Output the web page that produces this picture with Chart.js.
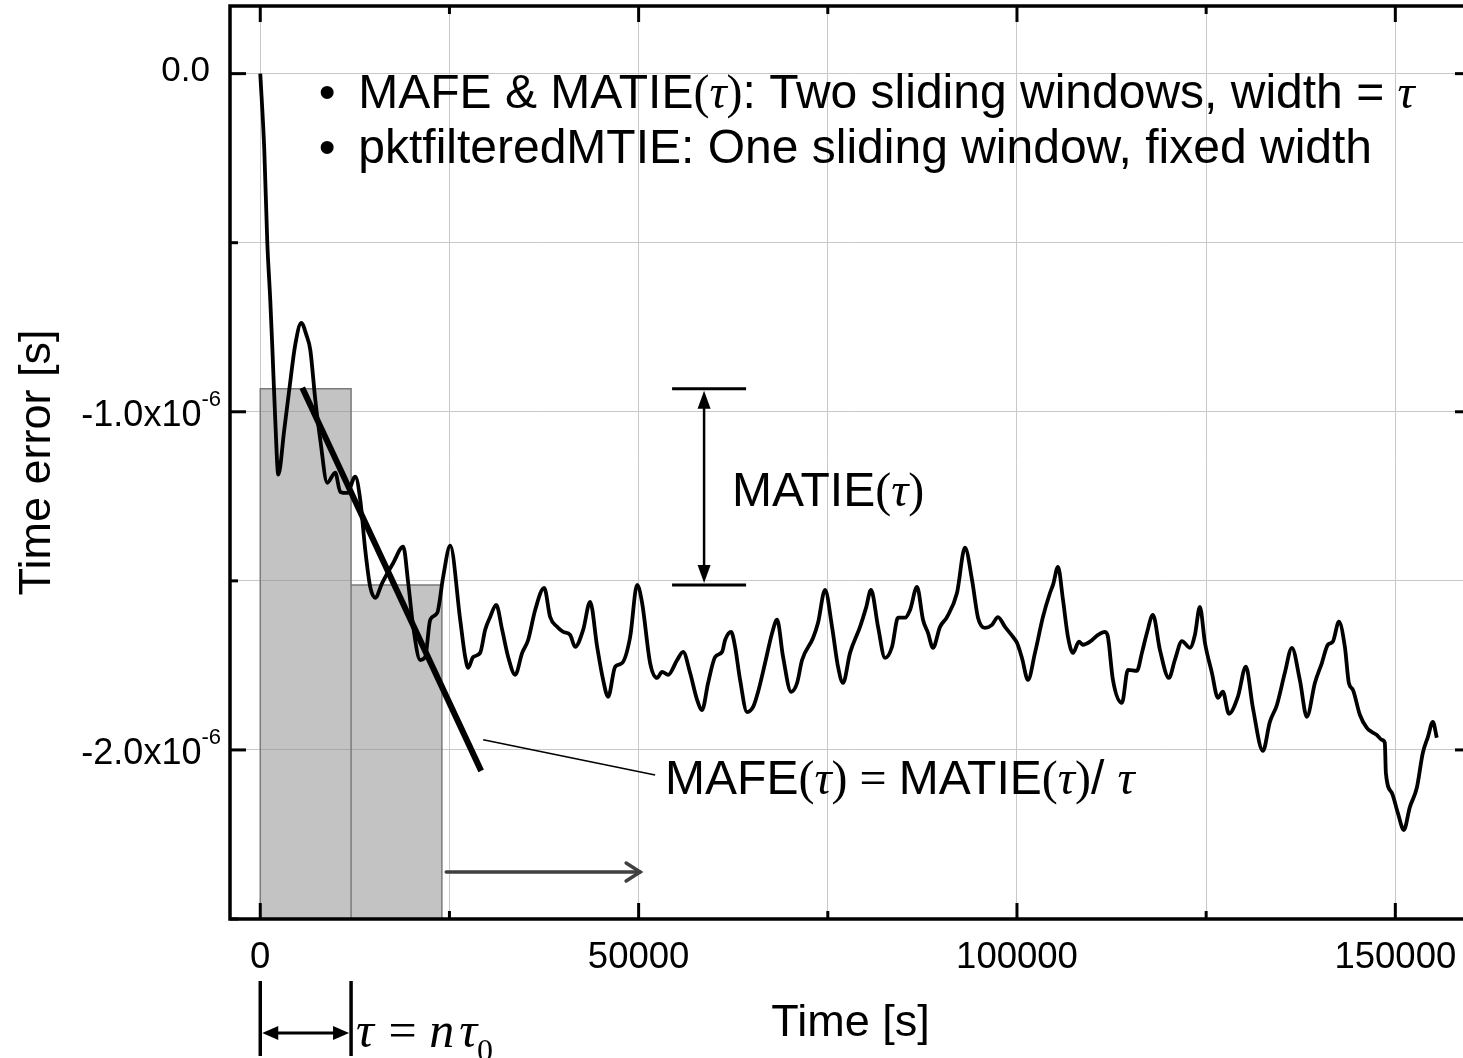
<!DOCTYPE html>
<html><head><meta charset="utf-8">
<script src="https://cdn.jsdelivr.net/npm/chart.js@4.4.1/dist/chart.umd.min.js"></script>
<style>html,body{margin:0;padding:0;overflow:hidden;background:#fff}#wrap{width:1474px;height:1058px}</style>
</head><body><div id="wrap"><canvas id="c" width="1474" height="1058"></canvas></div>
<script>
// ---------- data ----------
const timeSeconds = [
0,530,930,1320,1590,1980,2380,3170,3830,4620,
5420,6080,6610,7270,7930,8850,9910,10570,11490,12550,
13210,13870,14530,15190,16120,17570,18890,19550,20210,21140,
21800,22460,23380,24170,25100,26420,27080,27480,28140,29060,
29720,30380,31180,31970,32760,33690,34610,35400,36330,37520,
38310,39230,40030,40950,41610,42670,43590,44520,45310,45970,
46900,47820,48880,49800,50460,51520,52440,53100,53900,55090,
55880,56800,57730,58390,59180,60110,61030,61430,62220,62750,
63410,64330,65130,65790,66710,67640,68300,69090,70150,70940,
71600,73050,73710,74640,75560,76350,77010,77940,79260,80050,
80710,81640,82560,83490,84280,85210,85870,86790,87580,88240,
88900,89830,90750,92070,93130,94060,94850,95770,96700,97490,
98420,99470,100000,100660,101450,102380,103430,104360,104760,105420,
106080,106740,107400,108190,108720,109640,110700,111630,112020,112680,
113870,114660,115850,116510,117170,117970,118890,120080,120870,121800,
122850,123510,124170,124840,125760,126550,127210,128010,129190,130250,
131180,132500,133420,134350,135400,136330,137380,138310,139370,140290,
141080,141740,142540,143330,143860,144390,145310,146240,146900,147560,
148220,148610,148750,149540,150330,151120,151920,152840,153630,154300,
154960,155480];
const timeError = [
0,-0.225e-6,-0.500e-6,-0.669e-6,-0.808e-6,-1.024e-6,-1.186e-6,-1.053e-6,-0.935e-6,-0.802e-6,
-0.737e-6,-0.772e-6,-0.817e-6,-0.964e-6,-1.083e-6,-1.210e-6,-1.180e-6,-1.237e-6,-1.240e-6,-1.192e-6,
-1.260e-6,-1.408e-6,-1.518e-6,-1.550e-6,-1.506e-6,-1.447e-6,-1.399e-6,-1.506e-6,-1.636e-6,-1.734e-6,
-1.725e-6,-1.615e-6,-1.595e-6,-1.488e-6,-1.396e-6,-1.615e-6,-1.725e-6,-1.757e-6,-1.725e-6,-1.713e-6,
-1.645e-6,-1.607e-6,-1.571e-6,-1.645e-6,-1.725e-6,-1.778e-6,-1.713e-6,-1.675e-6,-1.586e-6,-1.521e-6,
-1.607e-6,-1.636e-6,-1.651e-6,-1.660e-6,-1.695e-6,-1.645e-6,-1.562e-6,-1.695e-6,-1.793e-6,-1.843e-6,
-1.754e-6,-1.743e-6,-1.666e-6,-1.512e-6,-1.565e-6,-1.743e-6,-1.787e-6,-1.769e-6,-1.778e-6,-1.734e-6,
-1.710e-6,-1.772e-6,-1.852e-6,-1.882e-6,-1.802e-6,-1.725e-6,-1.710e-6,-1.675e-6,-1.651e-6,-1.695e-6,
-1.793e-6,-1.888e-6,-1.873e-6,-1.828e-6,-1.743e-6,-1.654e-6,-1.615e-6,-1.725e-6,-1.828e-6,-1.802e-6,
-1.734e-6,-1.669e-6,-1.624e-6,-1.527e-6,-1.636e-6,-1.754e-6,-1.802e-6,-1.713e-6,-1.636e-6,-1.580e-6,
-1.527e-6,-1.636e-6,-1.728e-6,-1.695e-6,-1.609e-6,-1.609e-6,-1.586e-6,-1.518e-6,-1.615e-6,-1.654e-6,
-1.698e-6,-1.636e-6,-1.607e-6,-1.536e-6,-1.402e-6,-1.497e-6,-1.609e-6,-1.639e-6,-1.630e-6,-1.607e-6,
-1.636e-6,-1.666e-6,-1.683e-6,-1.728e-6,-1.793e-6,-1.713e-6,-1.607e-6,-1.536e-6,-1.512e-6,-1.459e-6,
-1.556e-6,-1.666e-6,-1.713e-6,-1.680e-6,-1.689e-6,-1.680e-6,-1.660e-6,-1.651e-6,-1.666e-6,-1.793e-6,
-1.861e-6,-1.763e-6,-1.766e-6,-1.713e-6,-1.654e-6,-1.601e-6,-1.704e-6,-1.787e-6,-1.734e-6,-1.678e-6,
-1.698e-6,-1.660e-6,-1.577e-6,-1.683e-6,-1.772e-6,-1.846e-6,-1.828e-6,-1.893e-6,-1.843e-6,-1.754e-6,
-1.876e-6,-2.003e-6,-1.917e-6,-1.867e-6,-1.772e-6,-1.698e-6,-1.793e-6,-1.902e-6,-1.802e-6,-1.743e-6,
-1.689e-6,-1.680e-6,-1.621e-6,-1.695e-6,-1.802e-6,-1.822e-6,-1.896e-6,-1.935e-6,-1.947e-6,-1.956e-6,
-1.970e-6,-1.979e-6,-2.068e-6,-2.127e-6,-2.186e-6,-2.237e-6,-2.169e-6,-2.112e-6,-2.009e-6,-1.962e-6,
-1.917e-6,-1.964e-6];

// averaging windows (width tau)
const windowStart = [0, 12000];
const windowEnd   = [12000, 24000];
const windowMean  = [-0.932e-6, -1.512e-6];

// MAFE slope line and leader
const slopeX = [5550, 29190];
const slopeY = [-0.929e-6, -2.062e-6];
const leaderX = [29460, 52180];
const leaderY = [-1.970e-6, -2.074e-6];

// MATIE bracket
const matieArrowX = 58650;
const matieBarX = [54420, 64200];

// sliding direction arrow
const slideArrowX = [24570, 50200];
const slideArrowY = -2.361e-6;

// axis ticks
const xGridTicks = [0, 25000, 50000, 75000, 100000, 125000, 150000];
const xMajorTicks = [0, 50000, 100000, 150000];
const xTickLabels = ['0', '50000', '100000', '150000'];
const yGridTicks = [-2.5e-6, -2.0e-6, -1.5e-6, -1.0e-6, -0.5e-6, 0];
const yMajorTicks = [0, -1e-6, -2e-6];
const yTickBase = ['0.0', '-1.0x10', '-2.0x10'];
const yTickExp  = ['', '-6', '-6'];

// text anchors (data space)
const bulletTextX = 12950, bulletDotX = 8850;
const bulletLineY = [-0.1006e-6, -0.2633e-6];
const matieLabel = {x: 62350, y: -1.278e-6};
const mafeLabel = {x: 53500, y: -2.130e-6};

// ---------- build ----------
const SANS = '"Liberation Sans", Arial, Helvetica, sans-serif';
const SERIF = '"Liberation Serif", "Times New Roman", serif';

const curve = timeSeconds.map((t, i) => ({x: t, y: timeError[i]}));
const yMin = -2.5e-6, yMax = 0.2e-6, xMin = -4000, xMax = 160000;
const windowOutline = [];
for (let i = 0; i < windowStart.length; i++) {
  windowOutline.push({x: windowStart[i], y: yMin});
  windowOutline.push({x: windowStart[i], y: windowMean[i]});
  windowOutline.push({x: windowEnd[i], y: windowMean[i]});
  windowOutline.push({x: windowEnd[i], y: yMin});
}
const slope = slopeX.map((v, i) => ({x: v, y: slopeY[i]}));
const leader = leaderX.map((v, i) => ({x: v, y: leaderY[i]}));

function line(ctx, x1, y1, x2, y2) { ctx.beginPath(); ctx.moveTo(x1, y1); ctx.lineTo(x2, y2); ctx.stroke(); }
function tri(ctx, tipX, tipY, dx, dy, len, half) {
  const bx = tipX - dx * len, by = tipY - dy * len;
  ctx.beginPath();
  ctx.moveTo(tipX, tipY);
  ctx.lineTo(bx - dy * half, by + dx * half);
  ctx.lineTo(bx + dy * half, by - dx * half);
  ctx.closePath(); ctx.fill();
}
function rich(ctx, x, y, parts) {
  let cx = x;
  for (const p of parts) {
    ctx.font = p.f;
    ctx.fillText(p.t, cx, y + (p.dy || 0));
    cx += ctx.measureText(p.t).width + (p.dx || 0);
  }
  return cx;
}

const annot = {
  id: 'annot',
  afterDatasetsDraw(chart) {
    const {ctx, chartArea: a, scales: {x, y}} = chart;
    const X = v => x.getPixelForValue(v), Y = v => y.getPixelForValue(v);
    ctx.save();
    ctx.strokeStyle = '#000'; ctx.fillStyle = '#000'; ctx.lineCap = 'butt';

    // MATIE bracket
    const yT = Y(windowMean[0]), yB = Y(windowMean[1]), ax = X(matieArrowX);
    ctx.lineWidth = 3;
    line(ctx, X(matieBarX[0]), yT, X(matieBarX[1]), yT);
    line(ctx, X(matieBarX[0]), yB, X(matieBarX[1]), yB);
    ctx.lineWidth = 2.5;
    line(ctx, ax, yT + 14, ax, yB - 14);
    tri(ctx, ax, yT + 2, 0, -1, 18, 6.5);
    tri(ctx, ax, yB - 2, 0, 1, 18, 6.5);

    // sliding arrow
    ctx.strokeStyle = '#404040'; ctx.lineWidth = 3.5; ctx.lineCap = 'round';
    const sy = Y(slideArrowY), sx1 = X(slideArrowX[0]), sx2 = X(slideArrowX[1]);
    line(ctx, sx1, sy, sx2, sy);
    ctx.beginPath(); ctx.moveTo(sx2 - 14, sy - 9); ctx.lineTo(sx2, sy); ctx.lineTo(sx2 - 14, sy + 9); ctx.stroke();

    // frame
    ctx.lineCap = 'butt'; ctx.strokeStyle = '#000'; ctx.lineWidth = 3.5;
    ctx.strokeRect(a.left, a.top, a.right - a.left, a.bottom - a.top);
    // ticks (inward on all four sides)
    ctx.lineWidth = 3;
    for (const t of x.ticks) {
      const px = X(t.value);
      const len = xMajorTicks.includes(t.value) ? 16 : 8;
      line(ctx, px, a.bottom, px, a.bottom - len);
      line(ctx, px, a.top, px, a.top + len);
    }
    for (const t of y.ticks) {
      const py = Y(t.value);
      const len = yMajorTicks.some(v => Math.abs(v - t.value) < 1e-12) ? 16 : 8;
      line(ctx, a.left, py, a.left + len, py);
      line(ctx, a.right, py, a.right - len, py);
    }

    // tau bracket below axis
    ctx.lineWidth = 3.5;
    const b0 = X(windowStart[0]), b1 = X(windowEnd[0]);
    line(ctx, b0, a.bottom + 62, b0, a.bottom + 137);
    line(ctx, b1, a.bottom + 62, b1, a.bottom + 137);
    const by = a.bottom + 114;
    ctx.lineWidth = 3;
    line(ctx, b0 + 12, by, b1 - 12, by);
    tri(ctx, b0 + 2, by, -1, 0, 16, 7);
    tri(ctx, b1 - 2, by, 1, 0, 16, 7);

    // texts
    ctx.fillStyle = '#000'; ctx.textBaseline = 'alphabetic';
    const S = '48px ' + SANS, R = '48px ' + SERIF, I = 'italic 48px ' + SERIF;
    ctx.textAlign = 'center'; ctx.font = S;
    ctx.fillText('\u2022', X(bulletDotX), Y(bulletLineY[0]));
    ctx.fillText('\u2022', X(bulletDotX), Y(bulletLineY[1]));
    ctx.textAlign = 'left';
    rich(ctx, X(bulletTextX), Y(bulletLineY[0]), [
      {t: 'MAFE & MATIE', f: S}, {t: '(', f: R}, {t: '\u03c4', f: I}, {t: ')', f: R},
      {t: ': Two sliding windows, width = ', f: S}, {t: '\u03c4', f: I}]);
    rich(ctx, X(bulletTextX), Y(bulletLineY[1]), [
      {t: 'pktfilteredMTIE: One sliding window, fixed width', f: S}]);
    rich(ctx, X(matieLabel.x), Y(matieLabel.y), [
      {t: 'MATIE', f: S}, {t: '(', f: R}, {t: '\u03c4', f: I}, {t: ')', f: R}]);
    rich(ctx, X(mafeLabel.x), Y(mafeLabel.y), [
      {t: 'MAFE', f: S}, {t: '(', f: R}, {t: '\u03c4', f: I}, {t: ')', f: R},
      {t: ' = ', f: R}, {t: 'MATIE', f: S}, {t: '(', f: R}, {t: '\u03c4', f: I}, {t: ')', f: R},
      {t: '/ ', f: S}, {t: '\u03c4', f: I}]);
    const T = 'italic 50px ' + SERIF, TR = '50px ' + SERIF;
    rich(ctx, b1 + 5, a.bottom + 128, [
      {t: '\u03c4', f: T, dx: 2}, {t: ' = ', f: TR}, {t: 'n', f: T, dx: 5}, {t: '\u03c4', f: T},
      {t: '0', f: '32px ' + SERIF, dy: 14}]);

    // y tick labels with superscript exponent
    for (let i = 0; i < yMajorTicks.length; i++) {
      const py = Y(yMajorTicks[i]);
      if (!yTickExp[i]) {
        ctx.font = '35px ' + SANS; ctx.textAlign = 'right'; ctx.textBaseline = 'middle';
        ctx.fillText(yTickBase[i], a.left - 20, py - 2);
      } else {
        ctx.font = '22px ' + SANS; ctx.textBaseline = 'middle';
        const ew = ctx.measureText(yTickExp[i]).width;
        const right = a.left - 9;
        ctx.textAlign = 'left';
        ctx.fillText(yTickExp[i], right - ew, py - 12);
        ctx.font = '36px ' + SANS; ctx.textAlign = 'right';
        ctx.fillText(yTickBase[i], right - ew, py + 4);
      }
    }
    ctx.restore();
  }
};

const gridOpts = {color: '#c8c8c8', lineWidth: 1, drawTicks: false};
new Chart(document.getElementById('c'), {
  type: 'line',
  data: {datasets: [
    {label: 'Averaging windows', data: windowOutline, borderColor: '#7a7a7a', borderWidth: 1.5,
     backgroundColor: 'rgba(140,140,140,0.52)', fill: 'start', pointRadius: 0, tension: 0, order: 4},
    {label: 'Time error', data: curve, borderColor: '#000', borderWidth: 3.8, pointRadius: 0,
     cubicInterpolationMode: 'monotone', fill: false, order: 3},
    {label: 'MAFE slope', data: slope, borderColor: '#000', borderWidth: 6, pointRadius: 0, fill: false, order: 2},
    {label: 'Leader', data: leader, borderColor: '#000', borderWidth: 1.5, pointRadius: 0, fill: false, order: 1}
  ]},
  options: {
    responsive: false, animation: false, events: [],
    layout: {padding: {top: 6, right: 3, bottom: 0, left: 0}},
    plugins: {legend: {display: false}, tooltip: {enabled: false}},
    scales: {
      x: {type: 'linear', min: xMin, max: xMax,
          afterBuildTicks(s) { s.ticks = xGridTicks.map(v => ({value: v})); },
          afterFit(s) { s.height = 139; },
          border: {display: false}, grid: gridOpts,
          ticks: {autoSkip: false, maxRotation: 0, padding: 17,
                  color: '#000', font: {family: SANS, size: 36.5},
                  callback: v => { const k = xMajorTicks.indexOf(v); return k >= 0 ? xTickLabels[k] : ''; }},
          title: {display: true, text: 'Time [s]', color: '#000', font: {family: SANS, size: 45},
                  padding: {top: 0, bottom: 7}}},
      y: {type: 'linear', min: yMin, max: yMax,
          afterBuildTicks(s) { s.ticks = yGridTicks.map(v => ({value: v})); },
          afterFit(s) { s.width = 230; },
          border: {display: false}, grid: gridOpts,
          ticks: {display: false},
          title: {display: true, text: 'Time error [s]', color: '#000', font: {family: SANS, size: 45},
                  padding: {top: 11, bottom: 0}}}
    }
  },
  plugins: [annot]
});
</script></body></html>
